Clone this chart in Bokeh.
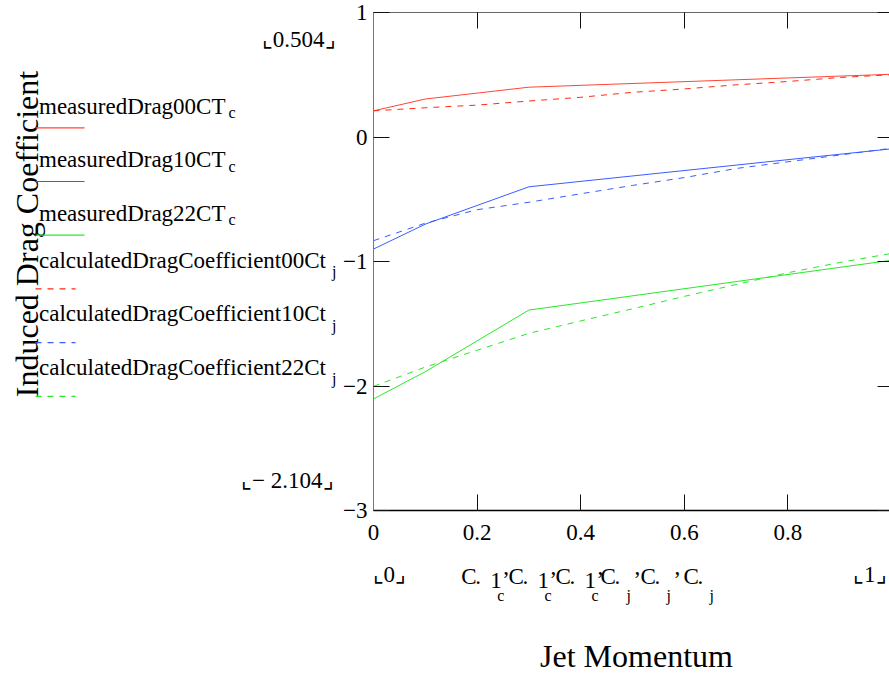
import math
from bokeh.plotting import figure
from bokeh.models import Range1d, FixedTicker, LinearAxis
from bokeh.layouts import row, column
from bokeh.core.properties import value
from bokeh.embed import file_html
from bokeh.resources import INLINE

# ---------------- data ----------------
x_measured = [0.0, 0.1, 0.3, 1.0]
measured_00 = [0.21, 0.305, 0.40, 0.504]
measured_10 = [-0.90, -0.70, -0.40, -0.095]
measured_22 = [-2.104, -1.885, -1.39, -0.99]

x_calc = [0.0, 0.1, 0.2, 0.3, 0.4, 0.5, 0.6, 0.7, 0.8, 0.9, 1.0]
calc_00 = [0.21, 0.235, 0.256, 0.289, 0.319, 0.359, 0.386, 0.419, 0.446, 0.478, 0.50]
calc_10 = [-0.833, -0.692, -0.584, -0.524, -0.456, -0.389, -0.326, -0.253, -0.199, -0.145, -0.09]
calc_22 = [-2.003, -1.848, -1.713, -1.577, -1.477, -1.38, -1.28, -1.185, -1.09, -1.008, -0.935]

series_names = ["measuredDrag00CT", "measuredDrag10CT", "measuredDrag22CT",
                "calculatedDragCoefficient00Ct", "calculatedDragCoefficient10Ct",
                "calculatedDragCoefficient22Ct"]
series_subs = ["c", "c", "c", "j", "j", "j"]

x_ticks = [0.0, 0.2, 0.4, 0.6, 0.8]
x_tick_labels = ["0", "0.2", "0.4", "0.6", "0.8"]
y_ticks = [-3, -2, -1, 0, 1]
y_tick_labels = ["\u22123", "\u22122", "\u22121", "0", "1"]
x_limit_labels = ["\u231e0\u231f", "\u231e1\u231f"]
y_limit_labels = ["\u231e0.504\u231f", "\u231e\u2212 2.104\u231f"]
x_var_subs = ["1c", "1c", "1c", "j", "j", "j"]
x_axis_title = "Jet Momentum"
y_axis_title = "Induced Drag Coefficient"

# ---------------- styles ----------------
FONT = value("Liberation Serif")
RED, RED_D, BLUE, GREEN = "#ff4636", "#ff2a10", "#3a5cff", "#2ae82a"
series_colors = [RED, BLUE, GREEN, RED_D, BLUE, GREEN]
series_dash = ["solid", "solid", "solid", "6 6", "6 6", "6 6"]


def put_text(fig, xs, baselines, texts, size, align="left", angle=0.0):
    """Place texts so that their alphabetic baseline sits at the given position."""
    off = 0.3375 * size
    if angle:
        xs = [x - off for x in xs]
        ys = list(baselines)
    else:
        ys = [b - off for b in baselines]
    fig.text(x=xs, y=ys, text=texts, angle=angle, text_align=align,
             text_baseline="middle", text_font=FONT,
             text_font_size=f"{size}px", text_color="black")


# ---------------- main plot ----------------
p = figure(width=549, height=555, x_range=Range1d(0, 0.996), y_range=Range1d(-3, 1),
           output_backend="svg", toolbar_location=None,
           x_axis_location=None, y_axis_location=None,
           min_border_left=33, min_border_right=0, min_border_top=12, min_border_bottom=45)
p.grid.visible = False
p.outline_line_color = None
p.border_fill_color = "white"
p.background_fill_color = "white"


def make_axis(ticks, labels, tick_len, line_color, show_labels=True, standoff=6):
    ax = LinearAxis(ticker=FixedTicker(ticks=ticks))
    ax.major_tick_in = tick_len
    ax.major_tick_out = 0
    ax.minor_tick_in = 0
    ax.minor_tick_out = 0
    ax.major_tick_line_color = "#111111"
    ax.axis_line_color = line_color
    if show_labels:
        ax.major_label_overrides = dict(zip(ticks, labels))
        ax.major_label_text_font = "Liberation Serif"
        ax.major_label_text_font_size = "23px"
        ax.major_label_text_color = "black"
        ax.major_label_standoff = standoff
    else:
        ax.major_label_overrides = {t: "" for t in ticks}
        ax.major_label_text_font_size = "0px"
        ax.major_label_standoff = 0
    return ax


p.add_layout(make_axis(x_ticks, x_tick_labels, 16, "#000000", True, 14), "below")
p.add_layout(make_axis(y_ticks, y_tick_labels, 16, "#777777", True, 6), "left")
p.add_layout(make_axis(x_ticks, x_tick_labels, 16, "#666666", False), "above")
p.add_layout(make_axis(y_ticks, y_tick_labels, 12, None, False), "right")
p.below[0].axis_line_width = 1.6

measured = [measured_00, measured_10, measured_22]
calculated = [calc_00, calc_10, calc_22]
for i, ys in enumerate(measured):
    p.line(x_measured, ys, line_color=series_colors[i], line_width=1)
for i, ys in enumerate(calculated):
    p.line(x_calc, ys, line_color=series_colors[3 + i], line_width=1,
           line_dash=series_dash[3 + i])

# ---------------- left panel: title, legend, limit labels ----------------
L = figure(width=340, height=673, x_range=Range1d(0, 340), y_range=Range1d(673, 0),
           output_backend="svg", toolbar_location=None,
           x_axis_location=None, y_axis_location=None, min_border=0)
L.grid.visible = False
L.outline_line_color = None

put_text(L, [37], [233.5], [y_axis_title], 32, align="center", angle=math.pi / 2)

line_y = [127.3 + 53.7 * i for i in range(len(series_names))]
txt_y = [ly - (14 if s == "c" else 21) for ly, s in zip(line_y, series_subs)]
put_text(L, [38.5] * 6, txt_y, series_names, 23)
sub_x = [228 if s == "c" else 331.5 for s in series_subs]
sub_y = [ty + (4 if s == "c" else 9) for ty, s in zip(txt_y, series_subs)]
put_text(L, sub_x, sub_y, series_subs, 16)
for i in range(len(series_names)):
    x_end = 84 if series_dash[i] == "solid" else 75
    L.segment(x0=[35], y0=[line_y[i]], x1=[x_end], y1=[line_y[i]],
              line_color=series_colors[i], line_width=1.2, line_dash=series_dash[i])

put_text(L, [335, 333], [47, 488], y_limit_labels, 23, align="right")

# ---------------- bottom panel: x limits, variable row, x title ----------------
B = figure(width=549, height=118, x_range=Range1d(373, 889), y_range=Range1d(673, 555),
           output_backend="svg", toolbar_location=None,
           x_axis_location=None, y_axis_location=None,
           min_border_left=33, min_border_right=0, min_border_top=0, min_border_bottom=0)
B.grid.visible = False
B.outline_line_color = None

put_text(B, [372], [582], [x_limit_labels[0]], 23)
put_text(B, [886], [582], [x_limit_labels[1]], 23, align="right")

group_x = [460.7, 508, 555, 600, 640, 683]
big_x, big_y, big_t = [], [], []
small_x, small_y, small_t = [], [], []
for k, (gx, sub) in enumerate(zip(group_x, x_var_subs)):
    big_x += [gx, gx + 14]
    big_y += [584, 584]
    big_t += ["C", "."]
    if sub == "1c":
        big_x.append(gx + 29); big_y.append(588); big_t.append("1")
        small_x.append(gx + 36); small_y.append(600); small_t.append("c")
        comma_x = gx + 42
    else:
        small_x.append(gx + 26); small_y.append(600); small_t.append("j")
        comma_x = gx + 34
    if k < len(group_x) - 1:
        big_x.append(comma_x); big_y.append(574); big_t.append(",")
put_text(B, big_x, big_y, big_t, 23)
put_text(B, small_x, small_y, small_t, 16)

put_text(B, [636], [666], [x_axis_title], 32, align="center")

layout = row(L, column(p, B))
open("out.html", "w").write(file_html(layout, INLINE))
